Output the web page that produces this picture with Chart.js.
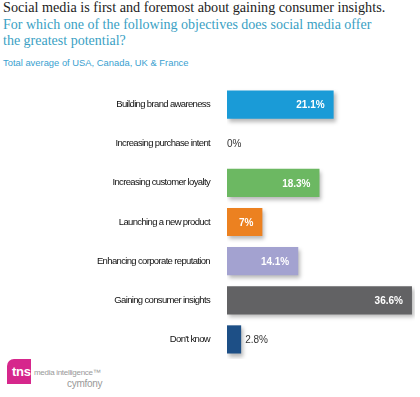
<!DOCTYPE html>
<html>
<head>
<meta charset="utf-8">
<script src="https://cdn.jsdelivr.net/npm/chart.js@4.4.1/dist/chart.umd.min.js"></script>
<style>
  html, body { margin: 0; padding: 0; background: #fff; }
  body { width: 420px; height: 397px; position: relative; overflow: hidden; }
  .t1 { position: absolute; left: 3px; top: -1px; font: 14.2px "Liberation Serif", serif; color: #222; white-space: nowrap; }
  .t2 { position: absolute; left: 3px; top: 17px; font: 14px/16px "Liberation Serif", serif; color: #3a9fc4; white-space: nowrap; }
  .t3 { position: absolute; left: 3px; top: 57px; font: 9.4px "Liberation Sans", sans-serif; color: #3a9fd0; white-space: nowrap; }
  #c { position: absolute; left: 0; top: 85px; }
  .logo { position: absolute; left: 7px; top: 359px; width: 24px; height: 25px; background: #d6278c; border-radius: 7px 0 0 0; }
  .logo span { position: absolute; left: 5px; top: 5px; font: bold 13px "Liberation Sans", sans-serif; color: #fff; letter-spacing: -0.3px; }
  .lg1 { position: absolute; left: 34px; top: 368px; font: 8px "Liberation Sans", sans-serif; color: #999; letter-spacing: -0.3px; }
  .lg2 { position: absolute; left: 67px; top: 378px; font: 10px "Liberation Sans", sans-serif; color: #999; letter-spacing: -0.3px; }
</style>
</head>
<body>
<div class="t1">Social media is first and foremost about gaining consumer insights.</div>
<div class="t2">For which one of the following objectives does social media offer<br>the greatest potential?</div>
<div class="t3">Total average of USA, Canada, UK &amp; France</div>
<canvas id="c" width="420" height="274"></canvas>
<div class="logo"><span>tns</span></div>
<div class="lg1">media intelligence&trade;</div>
<div class="lg2">cymfony</div>
<script>
const categories = ['Building brand awareness', 'Increasing purchase intent', 'Increasing customer loyalty',
  'Launching a new product', 'Enhancing corporate reputation', 'Gaining consumer insights', "Don't know"];
const values = [21.1, 0, 18.3, 7, 14.1, 36.6, 2.8];
const valueLabels = ['21.1%', '0%', '18.3%', '7%', '14.1%', '36.6%', '2.8%'];
const colors = ['#1a9bd7', '#ffffff', '#6cb862', '#ec8120', '#a3a2d0', '#626264', '#1d4f86'];

const shadow = {
  id: 'shadow',
  beforeDraw(chart) {
    chart.ctx.letterSpacing = '-0.65px';
  },
  beforeDatasetsDraw(chart) {
    const ctx = chart.ctx;
    ctx.save();
    ctx.shadowColor = 'rgba(0,0,0,0.28)';
    ctx.shadowBlur = 4;
    ctx.shadowOffsetX = 2;
    ctx.shadowOffsetY = 3;
  },
  afterDatasetsDraw(chart) {
    const ctx = chart.ctx;
    ctx.restore();
    const meta = chart.getDatasetMeta(0);
    ctx.save();
    ctx.letterSpacing = '0px';
    ctx.textBaseline = 'middle';
    meta.data.forEach((bar, i) => {
      const v = values[i];
      if (v > 5) {
        ctx.font = 'bold 10px "Liberation Sans", sans-serif';
        ctx.fillStyle = '#fff';
        ctx.textAlign = 'right';
        ctx.fillText(valueLabels[i], bar.x - 9, bar.y + 1);
      } else {
        ctx.font = '10px "Liberation Sans", sans-serif';
        ctx.fillStyle = '#333';
        ctx.textAlign = 'left';
        ctx.fillText(valueLabels[i], bar.x + (v > 0 ? 4 : 0), bar.y + 1);
      }
    });
    ctx.restore();
  }
};

new Chart(document.getElementById('c'), {
  type: 'bar',
  data: {
    labels: categories,
    datasets: [{
      data: values,
      backgroundColor: colors,
      borderWidth: 0,
      categoryPercentage: 0.72,
      barPercentage: 1.0
    }]
  },
  options: {
    indexAxis: 'y',
    responsive: false,
    animation: false,
    layout: { padding: { top: 0, right: 5, bottom: 0, left: 0 } },
    plugins: { legend: { display: false }, tooltip: { enabled: false } },
    scales: {
      x: {
        min: 0, max: 37.2,
        display: false
      },
      y: {
        grid: { display: false, drawTicks: false },
        border: { display: false },
        ticks: {
          color: '#111',
          padding: 17,
          font: { family: '"Liberation Sans", sans-serif', size: 9.5 }
        },
        afterFit(scale) {
          scale.width = 227;
          scale.paddingTop = 0;
          scale.paddingBottom = 0;
        }
      }
    }
  },
  plugins: [shadow]
});
</script>
</body>
</html>
